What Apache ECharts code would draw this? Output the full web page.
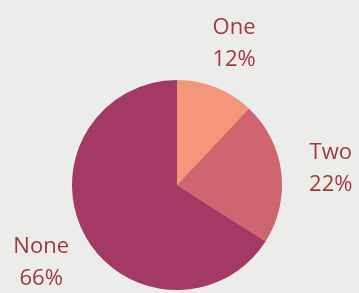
<!DOCTYPE html>
<html>
<head>
<meta charset="utf-8">
<script src="https://cdn.jsdelivr.net/npm/echarts@6/dist/echarts.min.js"></script>
<style>
  html, body { margin: 0; padding: 0; background: #ecedea; }
</style>
</head>
<body>
<div id="container" style="width: 359px; height: 293px"></div>
<script>
const categories = ["One", "Two", "None"];
const shares = [12, 22, 66];
const sliceColors = ["#f39679", "#cf656e", "#a23a65"];

const pieData = categories.map((name, i) => ({ name: name, value: shares[i] }));

const chart = echarts.init(document.getElementById("container"));

const option = {
  backgroundColor: "#ecedea",
  animation: false,
  color: sliceColors,
  series: [
    {
      name: "slices",
      type: "pie",
      center: [177, 185],
      radius: [0, 105],
      startAngle: 90,
      clockwise: true,
      label: { show: false },
      labelLine: { show: false },
      itemStyle: { borderWidth: 0 },
      data: pieData,
    },
    {
      // invisible ring just used to place the labels around the pie
      name: "labels",
      type: "pie",
      silent: true,
      center: [177, 185],
      radius: [0, 304],
      startAngle: 90,
      clockwise: true,
      itemStyle: { color: "transparent", borderWidth: 0 },
      labelLine: { show: false },
      label: {
        show: true,
        position: "inside",
        formatter: "{b}\n{c}%",
        color: "#a13a3d",
        fontFamily: "Open Sans",
        fontSize: 22,
        lineHeight: 32,
        align: "center",
        offset: [0, 3],
      },
      data: pieData,
    },
  ],
};

chart.setOption(option);
</script>
</body>
</html>
